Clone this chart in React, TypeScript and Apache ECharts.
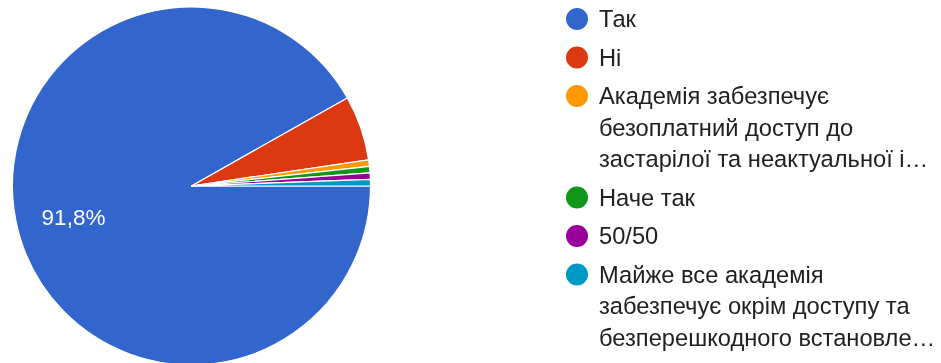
import React, { useEffect, useRef } from "react";
import * as echarts from "echarts";

const categories = [
  "Так",
  "Ні",
  "Академія забезпечує\nбезоплатний доступ до\nзастарілої та неактуальної і…",
  "Наче так",
  "50/50",
  "Майже все академія\nзабезпечує окрім доступу та\nбезперешкодного встановле…",
];
const values = [157, 10, 1, 1, 1, 1];
const colors = ["#3366CC", "#DC3912", "#FF9900", "#109618", "#990099", "#0099C6"];

const FONT = "Arial, 'Liberation Sans', sans-serif";
const LEGEND_LEFT = 564;
const LEGEND_FIRST = 18;
const ITEM_STEP = 38.5;
const LINE_H = 31.5;
const ICON = 24;

function iconPath(lines: number) {
  const h = lines * LINE_H;
  const cy = LINE_H / 2;
  const r = ICON / 2;
  return (
    "path://M0,0 L0.01,0 L0,0.01 Z " +
    `M${ICON},${h} L${ICON - 0.01},${h} L${ICON},${h - 0.01} Z ` +
    `M0,${cy} A${r},${r} 0 1,0 ${ICON},${cy} A${r},${r} 0 1,0 0,${cy} Z`
  );
}

export default function App() {
  const ref = useRef<HTMLDivElement>(null);
  useEffect(() => {
    if (!ref.current) return;
    const chart = echarts.init(ref.current, undefined, { renderer: "svg" });
    const total = values.reduce((a, b) => a + b, 0);
    const data = categories.map((name, i) => ({ name, value: values[i] }));

    const legends: any[] = [];
    let c = LEGEND_FIRST;
    categories.forEach((name, i) => {
      const lines = name.split("\n").length;
      legends.push({
        show: true,
        data: [{ name, icon: iconPath(lines) }],
        orient: "vertical",
        left: LEGEND_LEFT,
        top: c - LINE_H / 2,
        padding: 0,
        itemWidth: ICON,
        itemHeight: lines * LINE_H,
        selectedMode: false,
        textStyle: {
          fontFamily: FONT,
          fontSize: 23.7,
          color: "#212121",
          lineHeight: LINE_H,
          padding: [0, 0, 0, 5],
        },
      });
      c += ITEM_STEP + (lines - 1) * LINE_H;
    });

    chart.setOption({
      animation: false,
      color: colors,
      legend: legends,
      series: [
        {
          type: "pie",
          center: [191.5, 186],
          radius: 179,
          startAngle: 0,
          clockwise: true,
          silent: true,
          itemStyle: { borderColor: "#ffffff", borderWidth: 1.2 },
          label: { show: false },
          labelLine: { show: false },
          emphasis: { disabled: true },
          data,
        },
        {
          type: "pie",
          center: [191.5, 186],
          radius: 238,
          startAngle: 0,
          clockwise: true,
          silent: true,
          itemStyle: { color: "rgba(0,0,0,0)", borderWidth: 0 },
          labelLine: { show: false },
          emphasis: { disabled: true },
          label: {
            show: true,
            position: "inside",
            fontFamily: FONT,
            fontSize: 22.5,
            color: "#ffffff",
            formatter: (p: any) =>
              p.dataIndex === 0
                ? ((p.value / total) * 100).toFixed(1).replace(".", ",") + "%"
                : "",
          },
          data,
        },
      ],
    });
    return () => chart.dispose();
  }, []);
  return (
    <div
      ref={ref}
      style={{ position: "fixed", left: 0, top: 0, width: 941, height: 363 }}
    />
  );
}
